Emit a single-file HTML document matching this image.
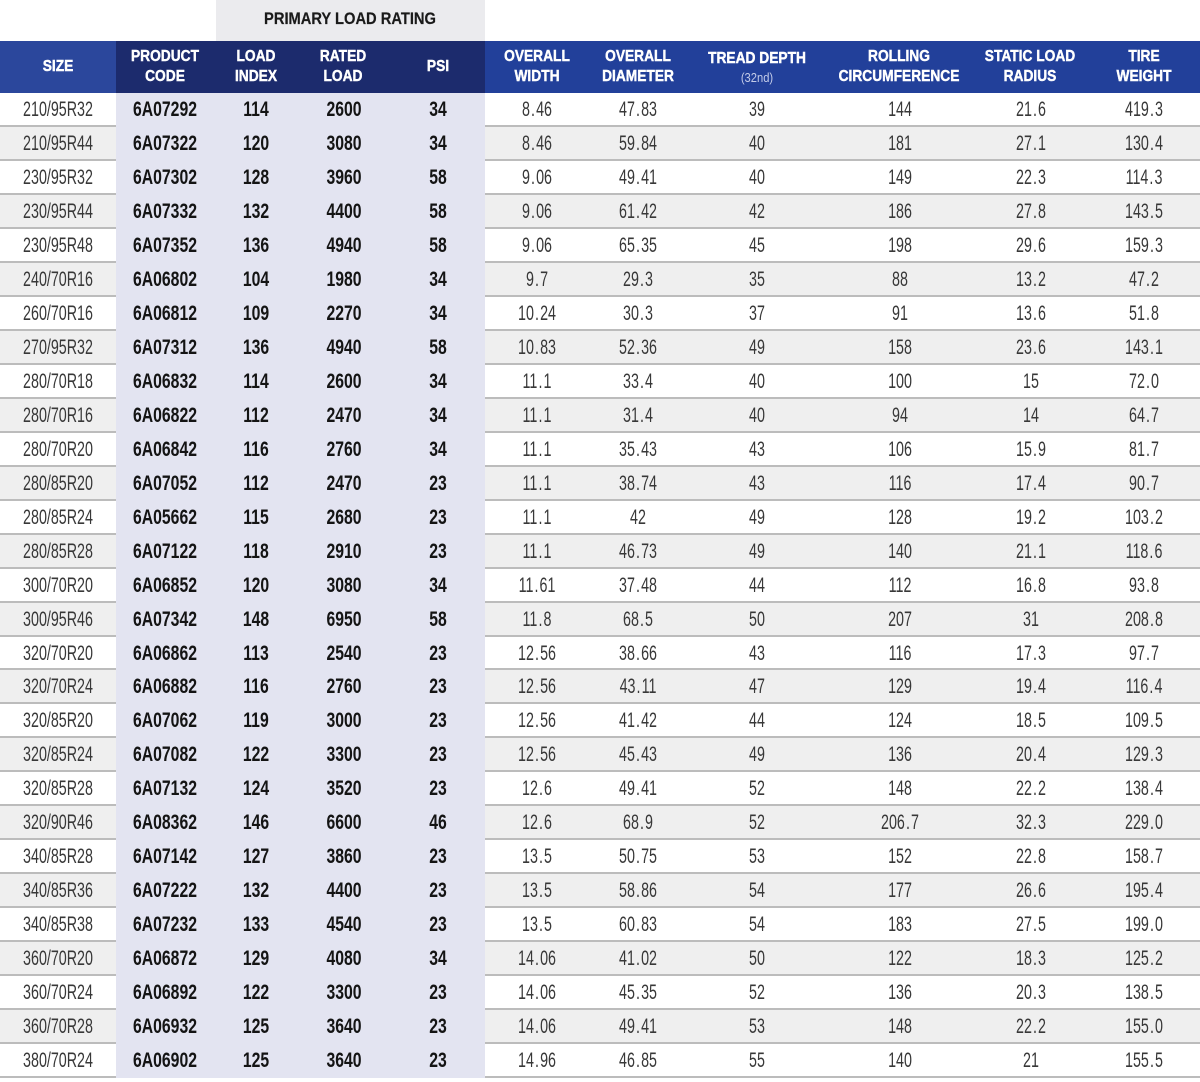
<!DOCTYPE html>
<html><head><meta charset="utf-8"><style>
*{margin:0;padding:0;box-sizing:border-box}
html,body{width:1200px;height:1082px;background:#fff;overflow:hidden}
body{position:relative;font-family:"Liberation Sans",sans-serif}
.top{position:absolute;left:216px;top:0;width:269px;height:41px;background:#ebebee}
.top span{position:absolute;left:134px;top:0;line-height:39px;font-weight:bold;font-size:16.5px;color:#1a1a1a;white-space:nowrap;transform-origin:0 50%;transform:scaleX(.89) translateX(-50%);-webkit-text-stroke:0.2px #1a1a1a}
.hb{position:absolute;top:41px;height:52px}
.h{position:absolute;top:41px;height:52px;display:flex;flex-direction:column;justify-content:center;align-items:center;line-height:20px;font-weight:bold;font-size:16px;color:#fff;white-space:nowrap;text-align:center;transform-origin:0 50%;transform:scaleX(.86) translateX(-50%);-webkit-text-stroke:0.45px #fff}
.h small{font-weight:normal;font-size:13px;color:#c3cbe8;line-height:17px;-webkit-text-stroke:0}
#rows{position:absolute;left:0;top:93px;width:1200px}
.r{position:relative;height:33.97px;border-bottom:2px solid #bcbcbc;background:#fff}
.r:nth-child(even){background:#efefef}
.r::before{content:"";position:absolute;left:116px;width:369px;top:0;bottom:-2px;background:#e3e4f1}
.r span{position:absolute;top:0;line-height:34px;font-size:21px;color:#383838;white-space:nowrap;transform-origin:0 50%;transform:scaleX(.68) translateX(-50%)}
.r span.k{font-weight:bold;color:#141414;transform:scaleX(.75) translateX(-50%)}
.r span i{font-style:normal;margin:0 1.6px}
.c1{left:57.5px}.c2{left:165px}.c3{left:255.5px}.c4{left:344px}.c5{left:437.5px}
.c6{left:537px}.c7{left:638px}.c8{left:757px}.c9{left:900px}.c10{left:1030.5px}.c11{left:1143.5px}
</style></head><body>
<div class="top"><span>PRIMARY LOAD RATING</span></div>
<div class="hb" style="left:0;width:116px;background:#2b479c"></div>
<div class="hb" style="left:116px;width:369px;background:#1c2b6d"></div>
<div class="hb" style="left:485px;width:715px;background:#22409a"></div>
<div class="h" style="left:57.5px">SIZE</div>
<div class="h" style="left:165px">PRODUCT<br>CODE</div>
<div class="h" style="left:256px">LOAD<br>INDEX</div>
<div class="h" style="left:343px">RATED<br>LOAD</div>
<div class="h" style="left:437.5px">PSI</div>
<div class="h" style="left:537px">OVERALL<br>WIDTH</div>
<div class="h" style="left:638px">OVERALL<br>DIAMETER</div>
<div class="h" style="left:756.5px">TREAD DEPTH<small>(32nd)</small></div>
<div class="h" style="left:899px">ROLLING<br>CIRCUMFERENCE</div>
<div class="h" style="left:1030px">STATIC LOAD<br>RADIUS</div>
<div class="h" style="left:1143.5px">TIRE<br>WEIGHT</div>
<div id="rows">
<div class="r"><span class="c1">210/95R32</span><span class="k c2">6A07292</span><span class="k c3">114</span><span class="k c4">2600</span><span class="k c5">34</span><span class="c6">8<i>.</i>46</span><span class="c7">47<i>.</i>83</span><span class="c8">39</span><span class="c9">144</span><span class="c10">21<i>.</i>6</span><span class="c11">419<i>.</i>3</span></div>
<div class="r"><span class="c1">210/95R44</span><span class="k c2">6A07322</span><span class="k c3">120</span><span class="k c4">3080</span><span class="k c5">34</span><span class="c6">8<i>.</i>46</span><span class="c7">59<i>.</i>84</span><span class="c8">40</span><span class="c9">181</span><span class="c10">27<i>.</i>1</span><span class="c11">130<i>.</i>4</span></div>
<div class="r"><span class="c1">230/95R32</span><span class="k c2">6A07302</span><span class="k c3">128</span><span class="k c4">3960</span><span class="k c5">58</span><span class="c6">9<i>.</i>06</span><span class="c7">49<i>.</i>41</span><span class="c8">40</span><span class="c9">149</span><span class="c10">22<i>.</i>3</span><span class="c11">114<i>.</i>3</span></div>
<div class="r"><span class="c1">230/95R44</span><span class="k c2">6A07332</span><span class="k c3">132</span><span class="k c4">4400</span><span class="k c5">58</span><span class="c6">9<i>.</i>06</span><span class="c7">61<i>.</i>42</span><span class="c8">42</span><span class="c9">186</span><span class="c10">27<i>.</i>8</span><span class="c11">143<i>.</i>5</span></div>
<div class="r"><span class="c1">230/95R48</span><span class="k c2">6A07352</span><span class="k c3">136</span><span class="k c4">4940</span><span class="k c5">58</span><span class="c6">9<i>.</i>06</span><span class="c7">65<i>.</i>35</span><span class="c8">45</span><span class="c9">198</span><span class="c10">29<i>.</i>6</span><span class="c11">159<i>.</i>3</span></div>
<div class="r"><span class="c1">240/70R16</span><span class="k c2">6A06802</span><span class="k c3">104</span><span class="k c4">1980</span><span class="k c5">34</span><span class="c6">9<i>.</i>7</span><span class="c7">29<i>.</i>3</span><span class="c8">35</span><span class="c9">88</span><span class="c10">13<i>.</i>2</span><span class="c11">47<i>.</i>2</span></div>
<div class="r"><span class="c1">260/70R16</span><span class="k c2">6A06812</span><span class="k c3">109</span><span class="k c4">2270</span><span class="k c5">34</span><span class="c6">10<i>.</i>24</span><span class="c7">30<i>.</i>3</span><span class="c8">37</span><span class="c9">91</span><span class="c10">13<i>.</i>6</span><span class="c11">51<i>.</i>8</span></div>
<div class="r"><span class="c1">270/95R32</span><span class="k c2">6A07312</span><span class="k c3">136</span><span class="k c4">4940</span><span class="k c5">58</span><span class="c6">10<i>.</i>83</span><span class="c7">52<i>.</i>36</span><span class="c8">49</span><span class="c9">158</span><span class="c10">23<i>.</i>6</span><span class="c11">143<i>.</i>1</span></div>
<div class="r"><span class="c1">280/70R18</span><span class="k c2">6A06832</span><span class="k c3">114</span><span class="k c4">2600</span><span class="k c5">34</span><span class="c6">11<i>.</i>1</span><span class="c7">33<i>.</i>4</span><span class="c8">40</span><span class="c9">100</span><span class="c10">15</span><span class="c11">72<i>.</i>0</span></div>
<div class="r"><span class="c1">280/70R16</span><span class="k c2">6A06822</span><span class="k c3">112</span><span class="k c4">2470</span><span class="k c5">34</span><span class="c6">11<i>.</i>1</span><span class="c7">31<i>.</i>4</span><span class="c8">40</span><span class="c9">94</span><span class="c10">14</span><span class="c11">64<i>.</i>7</span></div>
<div class="r"><span class="c1">280/70R20</span><span class="k c2">6A06842</span><span class="k c3">116</span><span class="k c4">2760</span><span class="k c5">34</span><span class="c6">11<i>.</i>1</span><span class="c7">35<i>.</i>43</span><span class="c8">43</span><span class="c9">106</span><span class="c10">15<i>.</i>9</span><span class="c11">81<i>.</i>7</span></div>
<div class="r"><span class="c1">280/85R20</span><span class="k c2">6A07052</span><span class="k c3">112</span><span class="k c4">2470</span><span class="k c5">23</span><span class="c6">11<i>.</i>1</span><span class="c7">38<i>.</i>74</span><span class="c8">43</span><span class="c9">116</span><span class="c10">17<i>.</i>4</span><span class="c11">90<i>.</i>7</span></div>
<div class="r"><span class="c1">280/85R24</span><span class="k c2">6A05662</span><span class="k c3">115</span><span class="k c4">2680</span><span class="k c5">23</span><span class="c6">11<i>.</i>1</span><span class="c7">42</span><span class="c8">49</span><span class="c9">128</span><span class="c10">19<i>.</i>2</span><span class="c11">103<i>.</i>2</span></div>
<div class="r"><span class="c1">280/85R28</span><span class="k c2">6A07122</span><span class="k c3">118</span><span class="k c4">2910</span><span class="k c5">23</span><span class="c6">11<i>.</i>1</span><span class="c7">46<i>.</i>73</span><span class="c8">49</span><span class="c9">140</span><span class="c10">21<i>.</i>1</span><span class="c11">118<i>.</i>6</span></div>
<div class="r"><span class="c1">300/70R20</span><span class="k c2">6A06852</span><span class="k c3">120</span><span class="k c4">3080</span><span class="k c5">34</span><span class="c6">11<i>.</i>61</span><span class="c7">37<i>.</i>48</span><span class="c8">44</span><span class="c9">112</span><span class="c10">16<i>.</i>8</span><span class="c11">93<i>.</i>8</span></div>
<div class="r"><span class="c1">300/95R46</span><span class="k c2">6A07342</span><span class="k c3">148</span><span class="k c4">6950</span><span class="k c5">58</span><span class="c6">11<i>.</i>8</span><span class="c7">68<i>.</i>5</span><span class="c8">50</span><span class="c9">207</span><span class="c10">31</span><span class="c11">208<i>.</i>8</span></div>
<div class="r"><span class="c1">320/70R20</span><span class="k c2">6A06862</span><span class="k c3">113</span><span class="k c4">2540</span><span class="k c5">23</span><span class="c6">12<i>.</i>56</span><span class="c7">38<i>.</i>66</span><span class="c8">43</span><span class="c9">116</span><span class="c10">17<i>.</i>3</span><span class="c11">97<i>.</i>7</span></div>
<div class="r"><span class="c1">320/70R24</span><span class="k c2">6A06882</span><span class="k c3">116</span><span class="k c4">2760</span><span class="k c5">23</span><span class="c6">12<i>.</i>56</span><span class="c7">43<i>.</i>11</span><span class="c8">47</span><span class="c9">129</span><span class="c10">19<i>.</i>4</span><span class="c11">116<i>.</i>4</span></div>
<div class="r"><span class="c1">320/85R20</span><span class="k c2">6A07062</span><span class="k c3">119</span><span class="k c4">3000</span><span class="k c5">23</span><span class="c6">12<i>.</i>56</span><span class="c7">41<i>.</i>42</span><span class="c8">44</span><span class="c9">124</span><span class="c10">18<i>.</i>5</span><span class="c11">109<i>.</i>5</span></div>
<div class="r"><span class="c1">320/85R24</span><span class="k c2">6A07082</span><span class="k c3">122</span><span class="k c4">3300</span><span class="k c5">23</span><span class="c6">12<i>.</i>56</span><span class="c7">45<i>.</i>43</span><span class="c8">49</span><span class="c9">136</span><span class="c10">20<i>.</i>4</span><span class="c11">129<i>.</i>3</span></div>
<div class="r"><span class="c1">320/85R28</span><span class="k c2">6A07132</span><span class="k c3">124</span><span class="k c4">3520</span><span class="k c5">23</span><span class="c6">12<i>.</i>6</span><span class="c7">49<i>.</i>41</span><span class="c8">52</span><span class="c9">148</span><span class="c10">22<i>.</i>2</span><span class="c11">138<i>.</i>4</span></div>
<div class="r"><span class="c1">320/90R46</span><span class="k c2">6A08362</span><span class="k c3">146</span><span class="k c4">6600</span><span class="k c5">46</span><span class="c6">12<i>.</i>6</span><span class="c7">68<i>.</i>9</span><span class="c8">52</span><span class="c9">206<i>.</i>7</span><span class="c10">32<i>.</i>3</span><span class="c11">229<i>.</i>0</span></div>
<div class="r"><span class="c1">340/85R28</span><span class="k c2">6A07142</span><span class="k c3">127</span><span class="k c4">3860</span><span class="k c5">23</span><span class="c6">13<i>.</i>5</span><span class="c7">50<i>.</i>75</span><span class="c8">53</span><span class="c9">152</span><span class="c10">22<i>.</i>8</span><span class="c11">158<i>.</i>7</span></div>
<div class="r"><span class="c1">340/85R36</span><span class="k c2">6A07222</span><span class="k c3">132</span><span class="k c4">4400</span><span class="k c5">23</span><span class="c6">13<i>.</i>5</span><span class="c7">58<i>.</i>86</span><span class="c8">54</span><span class="c9">177</span><span class="c10">26<i>.</i>6</span><span class="c11">195<i>.</i>4</span></div>
<div class="r"><span class="c1">340/85R38</span><span class="k c2">6A07232</span><span class="k c3">133</span><span class="k c4">4540</span><span class="k c5">23</span><span class="c6">13<i>.</i>5</span><span class="c7">60<i>.</i>83</span><span class="c8">54</span><span class="c9">183</span><span class="c10">27<i>.</i>5</span><span class="c11">199<i>.</i>0</span></div>
<div class="r"><span class="c1">360/70R20</span><span class="k c2">6A06872</span><span class="k c3">129</span><span class="k c4">4080</span><span class="k c5">34</span><span class="c6">14<i>.</i>06</span><span class="c7">41<i>.</i>02</span><span class="c8">50</span><span class="c9">122</span><span class="c10">18<i>.</i>3</span><span class="c11">125<i>.</i>2</span></div>
<div class="r"><span class="c1">360/70R24</span><span class="k c2">6A06892</span><span class="k c3">122</span><span class="k c4">3300</span><span class="k c5">23</span><span class="c6">14<i>.</i>06</span><span class="c7">45<i>.</i>35</span><span class="c8">52</span><span class="c9">136</span><span class="c10">20<i>.</i>3</span><span class="c11">138<i>.</i>5</span></div>
<div class="r"><span class="c1">360/70R28</span><span class="k c2">6A06932</span><span class="k c3">125</span><span class="k c4">3640</span><span class="k c5">23</span><span class="c6">14<i>.</i>06</span><span class="c7">49<i>.</i>41</span><span class="c8">53</span><span class="c9">148</span><span class="c10">22<i>.</i>2</span><span class="c11">155<i>.</i>0</span></div>
<div class="r"><span class="c1">380/70R24</span><span class="k c2">6A06902</span><span class="k c3">125</span><span class="k c4">3640</span><span class="k c5">23</span><span class="c6">14<i>.</i>96</span><span class="c7">46<i>.</i>85</span><span class="c8">55</span><span class="c9">140</span><span class="c10">21</span><span class="c11">155<i>.</i>5</span></div>
</div>
</body></html>
